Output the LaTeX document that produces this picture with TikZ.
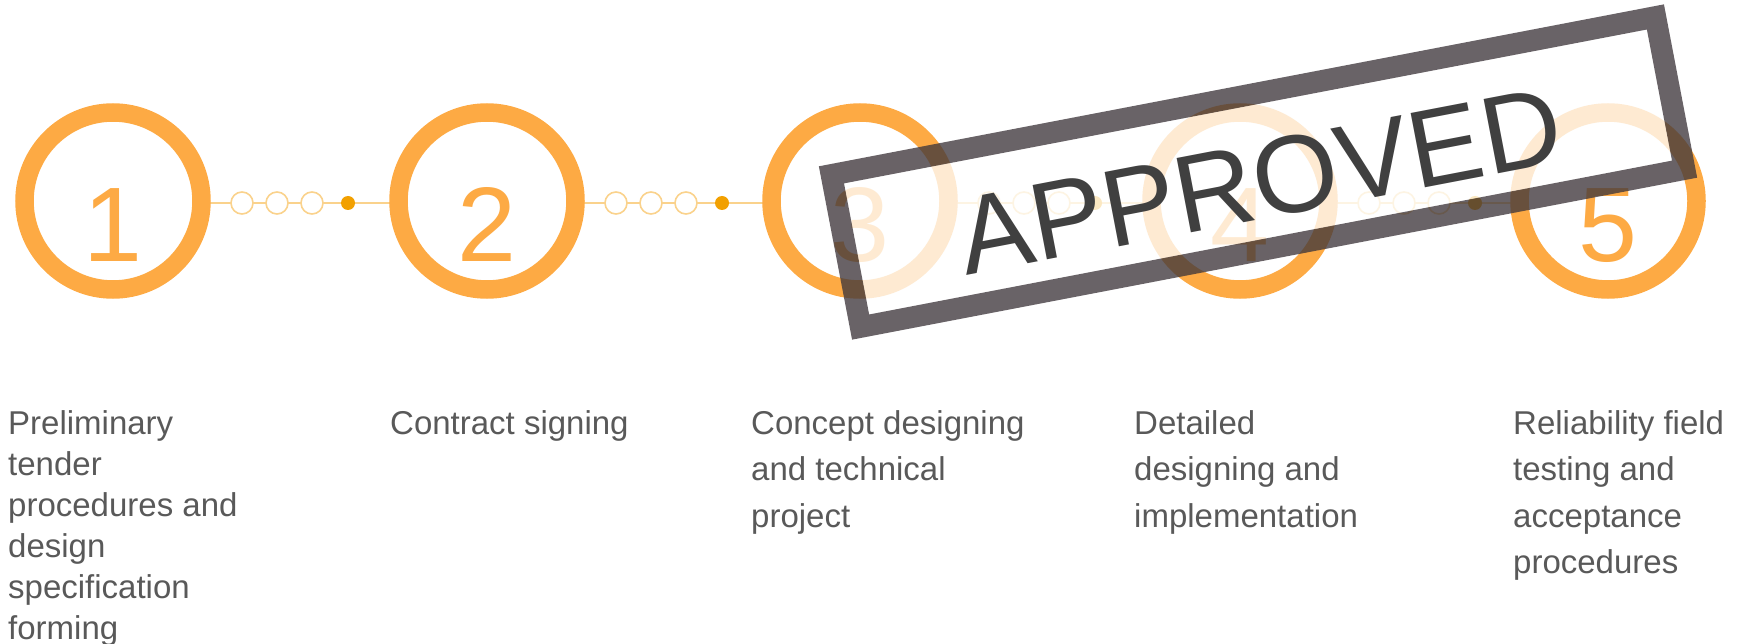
\documentclass[tikz,border=0pt]{standalone}
\usepackage{fontspec}
\setmainfont{Liberation Sans}
\usetikzlibrary{backgrounds}
\definecolor{ringc}{RGB}{253,170,68}
\definecolor{lightc}{RGB}{250,210,140}
\definecolor{dotc}{RGB}{242,160,0}
\definecolor{textc}{RGB}{89,89,89}
\definecolor{stampc}{RGB}{63,55,60}
\definecolor{stamptext}{RGB}{64,64,64}
\begin{document}
\begin{tikzpicture}[x=1pt,y=-1pt,
  ring/.style={circle, draw=ringc, line width=18.5pt, minimum size=177pt, inner sep=0pt, fill=white},
  num/.style={anchor=base, text=ringc, inner sep=0pt, font=\fontsize{106}{106}\selectfont},
  conn/.style={draw=lightc, line width=1.6pt},
  hollow/.style={circle, draw=lightc, line width=1.6pt, fill=white, minimum size=22pt, inner sep=0pt},
  dotn/.style={circle, fill=dotc, minimum size=14pt, inner sep=0pt},
  desc/.style={anchor=base west, align=left, text=textc, inner sep=0pt},
  stampframe/.style={draw=stampc, draw opacity=0.78, line width=21.5pt},
  stampfill/.style={fill=white, fill opacity=0.76},
  stampword/.style={anchor=base, text=stamptext, inner sep=0pt, transform shape, font=\fontsize{110}{110}\selectfont}
]
\useasboundingbox (0,0) rectangle (1741,644);

% circles
\node[ring] (c1) at (113,201) {};
\node[ring] (c2) at (487,201) {};
\node[ring] (c3) at (860,201) {};
\node[ring] (c4) at (1240,201) {};
\node[ring] (c5) at (1608,201) {};

\node[num] (n1) at (113,262) {1};
\node[num] (n2) at (487,262) {2};
\node[num] (n3) at (860,262) {3};
\node[num] (n4) at (1240,262) {4};
\node[num] (n5) at (1608,262) {5};

% connectors
\foreach \a/\b/\cx in {1/2/113, 2/3/487, 3/4/860, 4/5/1240}{
  \node[hollow] (h\a a) at (\cx+129,203) {};
  \node[hollow] (h\a b) at (\cx+164,203) {};
  \node[hollow] (h\a c) at (\cx+199,203) {};
  \node[dotn] (d\a) at (\cx+235,203) {};
  \begin{pgfonlayer}{background}
    \draw[conn] ([yshift=-2pt]c\a.center) -- ([yshift=-2pt]c\b.center);
  \end{pgfonlayer}
}

% descriptions (anchored at the baseline of their last line)
\node[desc, font=\fontsize{33}{41}\selectfont] (t1) at (8,639)
  {Preliminary\\tender\\procedures and\\design\\specification\\forming};
\node[desc, font=\fontsize{33}{46.5}\selectfont] (t2) at (390,434) {Contract signing};
\node[desc, font=\fontsize{33}{46.5}\selectfont] (t3) at (751,527)
  {Concept designing\\and technical\\project};
\node[desc, font=\fontsize{33}{46.5}\selectfont] (t4) at (1134,527)
  {Detailed\\designing and\\implementation};
\node[desc, font=\fontsize{33}{46.5}\selectfont] (t5) at (1513,573.5)
  {Reliability field\\testing and\\acceptance\\procedures};

% stamp
\begin{scope}[shift={(1258,172)}, rotate=10.85]
  \path[stampfill] (-409,-67) rectangle (409,67);
  \path[stampframe] (-419.5,-77.5) rectangle (419.5,77.5);
  \node[stampword] (stamp) at (0,47) {APPROVED};
\end{scope}
\end{tikzpicture}
\end{document}
